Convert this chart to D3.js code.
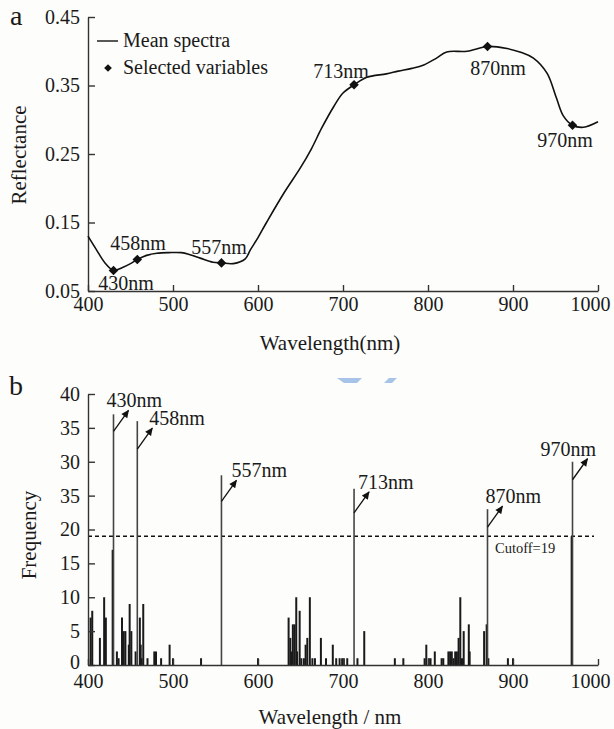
<!DOCTYPE html>
<html><head><meta charset="utf-8">
<script src="https://cdn.jsdelivr.net/npm/d3@7/dist/d3.min.js"></script>
<style>
body{margin:0;background:#fdfdfb}
svg{display:block}
text{font-family:"Liberation Serif","Times New Roman",Times,serif;fill:#1a1a1a}
</style>
</head><body>
<svg id="c" width="614" height="729"></svg>
<script>
// ---------- DATA ----------
// Panel a: mean spectrum
const wavelengths = [400,410,420,430,440,450,458,469,481,495,510,520,532,547,557,571,585,591,600,610,630,650,663,675,689,700,713,728,751,765,781,795,810,822,846,870,893,910,924,940,951,959,970,983,1000];
const reflectance = [0.130,0.110,0.091,0.080,0.084,0.090,0.096,0.102,0.105,0.106,0.106,0.103,0.098,0.092,0.091,0.090,0.097,0.110,0.128,0.150,0.192,0.230,0.258,0.288,0.319,0.339,0.351,0.362,0.367,0.371,0.375,0.380,0.390,0.399,0.400,0.407,0.404,0.398,0.390,0.368,0.332,0.306,0.292,0.289,0.297];
const selectedWl = [430,458,557,713,870,970];
const selectedLabels = ["430nm","458nm","557nm","713nm","870nm","970nm"];
const reflTicks = [0.05,0.15,0.25,0.35,0.45];
const xTicks = [400,500,600,700,800,900,1000];

// Panel b: selection frequency
const freqWl  = [403,405,414,419,421,429,434,436,440,442,444,448,449,451,456,461,462,463,465,470,478,480,486,496,500,533,600,
                 636,638,640,641,643,645,646,649,651,654,656,658,661,664,667,674,680,688,692,696,699,701,705,717,725,
                 761,771,796,798,801,803,808,816,818,824,826,828,830,832,834,836,838,840,842,848,849,866,869,871,894,900,969];
const freqVal = [7,8,4,10,7,17,2,1,7,5,5,3,9,5,2,7,3,1,9,1,2,2,1,3,1,1,1,
                 7,4,2,6,6,10,2,8,1,1,3,4,10,1,1,4,1,3,1,1,1,1,1,1,5,
                 1,1,1,3,1,1,2,1,1,2,2,2,1,2,2,4,10,1,5,6,2,5,6,1,1,1,19];
const selectedFreq = [37,36,28,26,23,30];
const cutoff = 19;
const freqTicks = [0,5,10,15,20,25,30,35,40];
const freqTickLabels = ["0","5","10","15","20","35","30","35","40"];

// ---------- LAYOUT ----------
const svg = d3.select("#c");
const X0 = 88, X1 = 598;
const ax = d3.scaleLinear().domain([400,1000]).range([X0,X1]);
const ay = d3.scaleLinear().domain([0.05,0.45]).range([291,17]);
const bx = d3.scaleLinear().domain([400,1000]).range([X0,X1]);
const by = d3.scaleLinear().domain([0,40]).range([665,394]);
const axisColor = "#333";
const aLabelOff = [[12.5,19.5],[0.7,-9.5],[-2.5,-9],[-13,-7],[10.5,28.5],[-7.5,22]];
const bArrowStart = [17,28,26,24,18,18];
const bLabelDx = [-22,-3,-5,-11,-17,-47];

function styleAxis(g){
  g.selectAll("path.domain").attr("stroke",axisColor).attr("stroke-width",1.4);
  g.selectAll(".tick line").attr("stroke",axisColor).attr("stroke-width",1.4);
  g.selectAll(".tick text").attr("fill","#1a1a1a").style("font-family",'"Liberation Serif","Times New Roman",serif').style("font-size","20px");
}
function shiftLast(g){
  g.selectAll(".tick text").filter(d=>d===1000).attr("dx",-8);
}

// watermark fragment (decorative)
svg.append("path").attr("d","M337,378 L362,378 L357,383 L344,383 Z").attr("fill","#a8c3e8");
svg.append("path").attr("d","M389,378 L397,378 L392,383 L384,383 Z").attr("fill","#a8c3e8");

// ---------- PANEL A ----------
const ga = svg.append("g");
ga.append("g").attr("transform","translate(0,291)")
  .call(d3.axisBottom(ax).tickValues(xTicks).tickSizeInner(-6).tickSizeOuter(0).tickPadding(6).tickFormat(d3.format("d")))
  .call(styleAxis).call(shiftLast);
ga.append("g").attr("transform",`translate(${X0},0)`)
  .call(d3.axisLeft(ay).tickValues(reflTicks).tickSizeInner(-7).tickSizeOuter(0).tickPadding(8).tickFormat(d3.format(".2f")))
  .call(styleAxis);

const spec = wavelengths.map((w,i)=>[w,reflectance[i]]);
ga.append("path").datum(spec)
  .attr("fill","none").attr("stroke","#111").attr("stroke-width",1.6)
  .attr("d", d3.line().x(d=>ax(d[0])).y(d=>ay(d[1])).curve(d3.curveCatmullRom.alpha(0.5)));

const diamond = d3.symbol().type(d3.symbolSquare).size(46);
selectedWl.forEach((w,i)=>{
  const r = reflectance[wavelengths.indexOf(w)];
  const px = ax(w), py = ay(r);
  ga.append("path").attr("d",diamond()).attr("fill","#111")
    .attr("transform",`translate(${px},${py}) rotate(45)`);
  ga.append("text").attr("x",px+aLabelOff[i][0]).attr("y",py+aLabelOff[i][1])
    .attr("text-anchor","middle").style("font-size","20px").text(selectedLabels[i]);
});

// legend
ga.append("line").attr("x1",97).attr("x2",118).attr("y1",41).attr("y2",41).attr("stroke","#111").attr("stroke-width",1.4);
ga.append("text").attr("x",123).attr("y",47).style("font-size","20px").text("Mean spectra");
ga.append("path").attr("d",d3.symbol().type(d3.symbolSquare).size(30)()).attr("fill","#111")
  .attr("transform","translate(108,68) rotate(45)");
ga.append("text").attr("x",123).attr("y",74).style("font-size","20px").text("Selected variables");

ga.append("text").attr("x",330).attr("y",350).attr("text-anchor","middle").style("font-size","21px").text("Wavelength(nm)");
ga.append("text").attr("transform","translate(26,155) rotate(-90)").attr("text-anchor","middle").style("font-size","21px").text("Reflectance");
ga.append("text").attr("x",10).attr("y",25).style("font-size","28px").text("a");

// ---------- PANEL B ----------
const gb = svg.append("g");
svg.append("defs").append("marker").attr("id","arr")
  .attr("viewBox","0 0 10 10").attr("refX",9).attr("refY",5)
  .attr("markerWidth",9).attr("markerHeight",8).attr("markerUnits","userSpaceOnUse")
  .attr("orient","auto")
  .append("path").attr("d","M0,0.5 L10,5 L0,9.5 Z").attr("fill","#111");

gb.selectAll("line.bar").data(freqWl.map((w,i)=>[w,freqVal[i]])).join("line")
  .attr("class","bar")
  .attr("x1",d=>bx(d[0])).attr("x2",d=>bx(d[0]))
  .attr("y1",by(0)).attr("y2",d=>by(d[1]))
  .attr("stroke","#1a1a1a").attr("stroke-width",2);

gb.append("line").attr("x1",X0).attr("x2",594).attr("y1",by(cutoff)).attr("y2",by(cutoff))
  .attr("stroke","#111").attr("stroke-width",1.5).attr("stroke-dasharray","4,3");
gb.append("text").attr("x",495).attr("y",553).style("font-size","14.5px").text("Cutoff="+cutoff);

selectedWl.forEach((w,i)=>{
  const px = bx(w), top = by(selectedFreq[i]);
  gb.append("line").attr("x1",px).attr("x2",px).attr("y1",by(0)).attr("y2",top)
    .attr("stroke","#444").attr("stroke-width",1.6);
  const sx = px, sy = top + bArrowStart[i];
  const tx = sx + 15, ty = sy - 21;
  gb.append("line").attr("x1",sx).attr("y1",sy).attr("x2",tx).attr("y2",ty)
    .attr("stroke","#111").attr("stroke-width",1.3).attr("marker-end","url(#arr)");
  gb.append("text").attr("x",tx+bLabelDx[i]).attr("y",ty-3).style("font-size","20px").text(selectedLabels[i]);
});

gb.append("g").attr("transform","translate(0,665)")
  .call(d3.axisBottom(bx).tickValues(xTicks).tickSizeInner(-6).tickSizeOuter(0).tickPadding(9).tickFormat(d3.format("d")))
  .call(styleAxis).call(shiftLast);
gb.append("g").attr("transform",`translate(${X0},0)`)
  .call(d3.axisLeft(by).tickValues(freqTicks).tickSizeInner(-7).tickSizeOuter(0).tickPadding(8).tickFormat((d,i)=>freqTickLabels[i]))
  .call(styleAxis)
  .call(g=>g.selectAll(".tick text").filter(d=>d===0).attr("y",-3));

gb.append("text").attr("x",330).attr("y",724).attr("text-anchor","middle").style("font-size","21px").text("Wavelength / nm");
gb.append("text").attr("transform","translate(36,535) rotate(-90)").attr("text-anchor","middle").style("font-size","21px").text("Frequency");
gb.append("text").attr("x",9).attr("y",395).style("font-size","28px").text("b");
</script>
</body></html>
